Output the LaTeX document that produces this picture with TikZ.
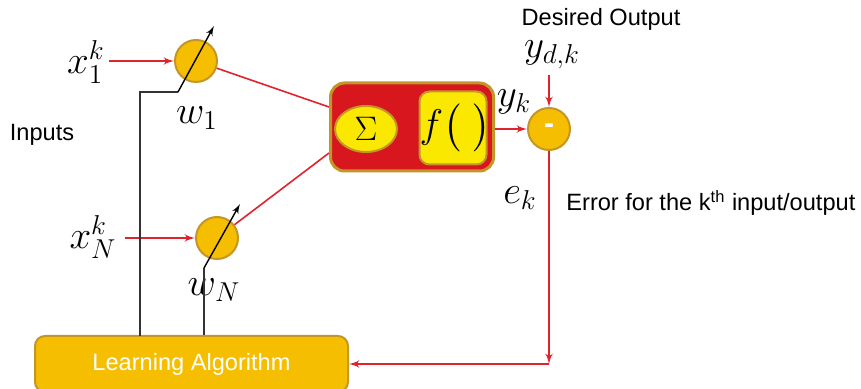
\RequirePackage{fix-cm}
\documentclass[tikz,border=0pt]{standalone}
\usepackage{amsmath,amssymb}
\usepackage{fontspec}
\setsansfont{Liberation Sans}
\usepackage{xcolor}
\usepackage{tikz}
\usetikzlibrary{shapes,arrows,positioning,calc}

\definecolor{gold}{RGB}{245,190,0}
\definecolor{goldrim}{RGB}{196,150,40}
\definecolor{boxred}{RGB}{215,22,30}
\definecolor{lemon}{RGB}{250,232,0}
\definecolor{wirered}{RGB}{225,35,45}

\newcommand{\lbl}{\fontsize{11.8}{14}\selectfont\sffamily}
\newcommand{\mlbl}{\fontsize{19.5}{22}\selectfont}

\begin{document}
\begin{tikzpicture}[x=0.5pt, y=-0.5pt,
    neuron/.style={circle, draw=goldrim, fill=gold, line width=1pt, minimum size=21pt, inner sep=0pt},
    block_unit/.style={rectangle, draw=goldrim, fill=boxred, rounded corners=7pt, line width=1.5pt, minimum width=81.5pt, minimum height=44pt},
    block_sum/.style={ellipse, draw=goldrim, fill=lemon, line width=1pt, minimum width=31pt, minimum height=23pt, inner sep=0pt, font=\fontsize{17}{20}\selectfont},
    block_act/.style={rectangle, draw=goldrim, fill=lemon, rounded corners=5pt, line width=1pt, text width=33.5pt, align=center, minimum height=36.5pt, inner sep=0pt, font=\fontsize{20}{22}\selectfont},
    block_learn/.style={rectangle, draw=goldrim, fill=gold, rounded corners=5pt, line width=1pt, minimum width=156.5pt, minimum height=28pt, text=white, font=\lbl},
    txt/.style={font=\lbl, inner sep=0pt},
    sym/.style={font=\mlbl, inner sep=0pt},
    line/.style={draw=wirered, -latex', line width=0.8pt},
    link/.style={draw=wirered, line width=0.8pt},
    weight/.style={draw=black, -latex', line width=0.7pt},
    feed/.style={draw=black!80, line width=0.7pt}]

    \useasboundingbox (0,0) rectangle (861,389);

    % weighting nodes and the neuron
    \node [neuron] (w1) at (196,61) {};
    \node [neuron] (wN) at (217,238) {};
    \node [block_unit] (unit) at (412,127) {};
    \node [block_sum] (sum) at (366,129) {$\Sigma$};
    \node [block_act] (act) at (453,128) {$f\big(\;\big)$};
    \node [neuron] (err) at (549,129) {\textcolor{white}{\fontsize{15}{15}\selectfont\sffamily\bfseries -}};
    \node [block_learn] (learn) at (191.5,364) {Learning Algorithm};

    % labels
    \node [sym] (x1) at (86,62) {$x_1^k$};
    \node [sym] (xN) at (93,237) {$x_N^k$};
    \node [sym] (lw1) at (197,118) {$w_1$};
    \node [sym] (lwN) at (214,290) {$w_N$};
    \node [sym] (yk) at (514,102) {$y_k$};
    \node [sym] (yd) at (552,55) {$y_{d,k}$};
    \node [sym] (ek) at (520,198) {$e_k$};
    \node [txt] (inp) at (42,135) {Inputs};
    \node [txt] (des) at (601,19) {Desired Output};
    \node [txt, anchor=west] (errtxt) at (566,203) {Error for the k\textsuperscript{th} input/output};

    % signal path
    \path [line, shorten <=2pt] (x1.east |- w1) -- (w1);
    \path [line, shorten <=4pt] (xN.east |- wN) -- (wN);
    \path [link] (w1) -- ([yshift=10pt]unit.west);
    \path [link] (wN) -- ([yshift=-13pt]unit.west);
    \path [line] (unit.east |- err) -- (err);
    \path [line, shorten <=3pt] (err |- yd.south) -- (err);
    \coordinate (bend) at (err |- learn.east);
    \path [line] (err) -- (bend);
    \path [line] (bend) -- (learn.east);

    % weight adjustment
    \coordinate (t1) at (178,92);
    \coordinate (h1) at (214,26);
    \coordinate (tN) at (204,268);
    \coordinate (hN) at (240,204);
    \coordinate (k1) at (140,336);
    \path [feed] (t1) -| (k1);
    \path [feed] (tN) -- (tN |- learn.north);
    \path [weight] (t1) -- (h1);
    \path [weight] (tN) -- (hN);
\end{tikzpicture}
\end{document}
